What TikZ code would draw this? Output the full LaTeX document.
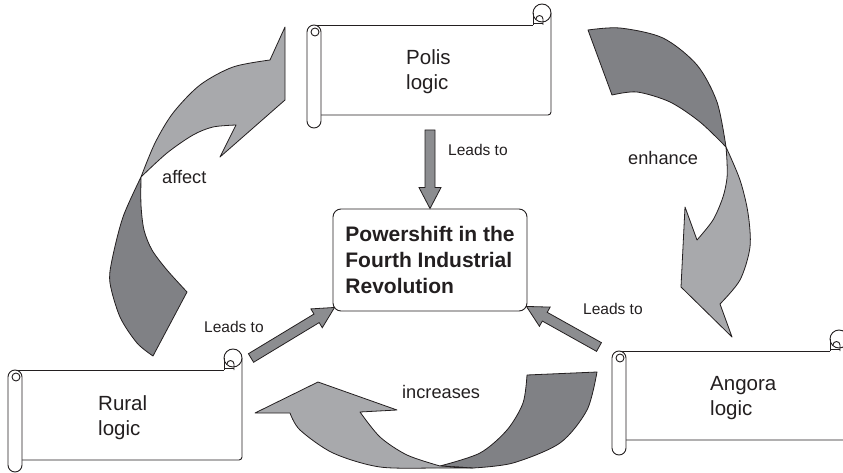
\documentclass[tikz,border=0pt]{standalone}
\usepackage{fontspec}
\setmainfont{Liberation Sans}
\usetikzlibrary{calc}
\definecolor{lightg}{RGB}{168,169,172}
\definecolor{darkg}{RGB}{128,129,133}
\definecolor{midg}{RGB}{140,141,144}
\definecolor{ink}{RGB}{35,31,32}
\tikzset{
  curvelight/.style={draw=ink, line width=0.8pt, fill=lightg, line join=round},
  curvedark/.style={draw=ink, line width=0.8pt, fill=darkg, line join=round},
  blockarr/.style={draw=ink, line width=0.8pt, fill=midg, line join=miter},
  scrollline/.style={draw=ink, line width=0.9pt},
  scrolltext/.style={anchor=base west, inner sep=0pt, align=left, text=ink,
    font=\fontsize{20.5}{25}\selectfont},
  lbl/.style={anchor=base west, inner sep=0pt, text=ink, font=\fontsize{15.5}{18}\selectfont},
  biglbl/.style={anchor=base west, inner sep=0pt, text=ink, font=\fontsize{18.2}{21}\selectfont},
  ctrbox/.style={draw=ink, line width=0.9pt, rounded corners=8pt, fill=white,
    minimum width=194pt, minimum height=102pt, align=left,
    inner sep=0pt, text=ink, font=\bfseries\fontsize{21}{26}\selectfont}
}
% scroll: L T R B E (left, body top, right, body bottom, roll bottom)
\newcommand{\myscroll}[5]{%
  \fill[white] ({#1+7},#2) rectangle (#3,#4);
  \draw[scrollline] ({#1+7},#2) -- ({#3-18},#2);
  \draw[scrollline, rounded corners=3pt] (#3,{#2-12}) -- (#3,#4) -- ({#1+14},#4);
  \draw[scrollline, fill=white] ({#3-9},{#2-12}) circle (9);
  \draw[scrollline] ({#3-18},{#2-12}) -- ({#3-18},#2);
  \draw[scrollline] ({#3-18},{#2-2}) -- ({#3-8},{#2-2});
  \draw[scrollline] ({#3-8},#2) -- ({#3-8},{#2-6}) arc[start angle=0, end angle=-180, radius=3.5];
  \draw[scrollline, fill=white, rounded corners=7pt] (#1,#2) rectangle ({#1+14},#5);
  \draw[scrollline] ({#1+8},{#2+7}) circle (4);
}
% block arrow from #1 to #2
\newcommand{\blockarrow}[2]{%
  \coordinate (hb) at ($(#2)!21pt!(#1)$);
  \draw[blockarr] ($(#1)!5pt!90:(#2)$) -- ($(hb)!5pt!90:(#2)$) -- ($(hb)!11pt!90:(#2)$)
    -- (#2) -- ($(hb)!11pt!-90:(#2)$) -- ($(hb)!5pt!-90:(#2)$) -- ($(#1)!5pt!-90:(#2)$) -- cycle;
}
\begin{document}
\begin{tikzpicture}[x=1pt, y=-1pt]
\useasboundingbox (0,0) rectangle (843,473);
\clip (0,0) rectangle (843,473);

% ---- curved arrow "affect"
\draw[curvedark] plot[smooth] coordinates {(141,177) (123,217) (112,260) (110,283) (120,317) (137,343) (153,356)}
  -- plot[smooth] coordinates {(187,292) (167,270) (152,250) (144,230) (141,205) (141,177)} -- cycle;
\draw[curvelight] plot[smooth] coordinates {(141,177) (155,143) (173,113) (200,85) (233,67) (270,60)}
  -- (285,27) -- (285,100) -- (220,157) -- plot[smooth] coordinates {(236,125) (213,127) (193,135) (167,153) (141,177)} -- cycle;

% ---- curved arrow "enhance"
\draw[curvedark] plot[smooth] coordinates {(588,30) (620,28) (663,38) (697,65) (717,102) (726,147)}
  -- plot[smooth] coordinates {(726,147) (700,122) (670,102) (637,92) (612,95)} -- cycle;
\draw[curvelight] plot[smooth] coordinates {(726,147) (740,180) (748,213) (750,247) (740,280) (720,304)}
  -- (732,337) -- (681,287) -- (685,207) -- plot[smooth] coordinates {(697,240) (713,220) (723,197) (727,178) (727,162) (726,147)} -- cycle;

% ---- curved arrow "increases"
\draw[curvedark] (527,375) -- plot[smooth] coordinates {(597,372) (587,410) (560,443) (513,463) (473,468)}
  -- plot[smooth] coordinates {(440,466) (480,453) (507,430) (523,403) (527,375)} -- cycle;
\draw[curvelight] plot[smooth] coordinates {(473,468) (440,468) (380,467) (333,453) (300,430) (290,413)}
  -- (255,413) -- (318,382) -- (397,410) -- plot[smooth] coordinates {(360,412) (380,437) (407,455) (440,466)} -- cycle;

% ---- scrolls
\myscroll{307}{25}{551}{115}{128}
\myscroll{8}{370}{242}{460}{472}
\myscroll{612}{351}{848}{440}{455}

\node[scrolltext] (polis) at (406,90) {Polis\\logic};
\node[scrolltext] (rural) at (98,435) {Rural\\logic};
\node[scrolltext] (angora) at (710,415) {Angora\\logic};

% ---- centre
\node[ctrbox] (ctr) at (430,260) {Powershift in the\\Fourth Industrial\\Revolution};

% ---- straight arrows
\coordinate (tailP) at (430,130);
\coordinate (tailR) at (251,358);
\coordinate (tailA) at (599,347);
\coordinate (tipL) at ($(ctr.south west)+(2,-4)$);
\coordinate (tipR) at ($(ctr.south east)+(-1,-5)$);
\blockarrow{tailP}{ctr.north}
\blockarrow{tailR}{tipL}
\blockarrow{tailA}{tipR}

% ---- labels
\node[lbl] (lt1) at (448,156) {Leads to};
\node[lbl] (lt2) at (583,314) {Leads to};
\node[lbl] (lt3) at (204,332) {Leads to};
\node[biglbl] (laff) at (162,184) {affect};
\node[biglbl] (lenh) at (628,165) {enhance};
\node[biglbl] (linc) at (402,398) {increases};
\end{tikzpicture}
\end{document}
